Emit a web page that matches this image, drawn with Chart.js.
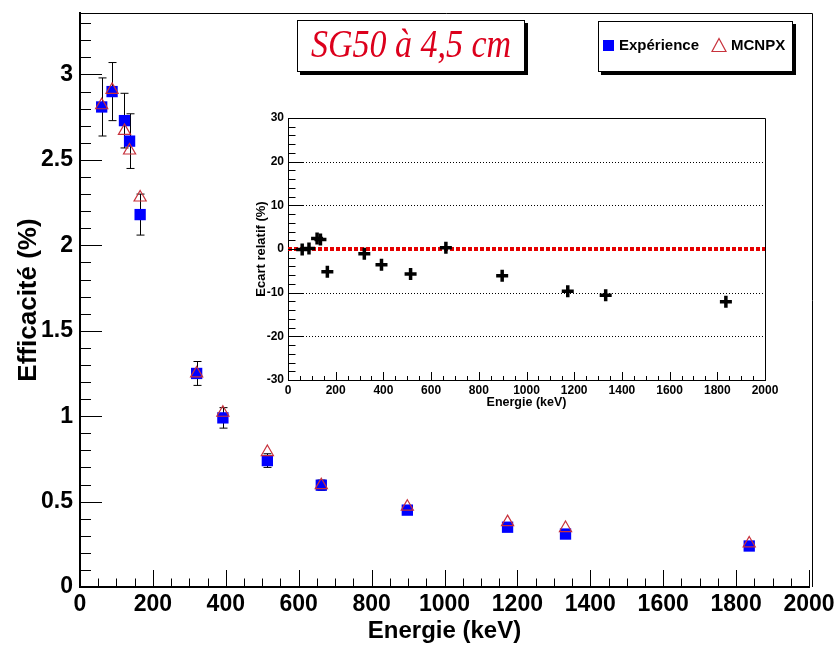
<!DOCTYPE html>
<html>
<head>
<meta charset="utf-8">
<script src="https://cdn.jsdelivr.net/npm/chart.js@4.4.1/dist/chart.umd.min.js"></script>
<style>
  body { margin: 0; background: #fff; }
  #wrap { position: relative; width: 836px; height: 646px; overflow: hidden; }
  #mainChart { position: absolute; left: 0; top: 0; }
  #insetChart { position: absolute; left: 236px; top: 104px; }
  .box {
    position: absolute; background: #fff; border: 1px solid #000;
    box-shadow: 3px 3px 0 #000;
  }
  #titleBox { left: 297px; top: 20px; width: 226px; height: 50px; }
  #titleBox span {
    position: absolute; left: 0; right: 0; top: 3px; text-align: center;
    font: italic 34px "Liberation Serif", "Times New Roman", serif;
    color: #dc001c; transform: scaleY(1.18); transform-origin: 50% 50%;
    line-height: 40px;
  }
  #legendBox { left: 598px; top: 21px; width: 193px; height: 49px; }
  .leg { position: absolute; top: 14px; font: bold 15px "Liberation Sans", Arial, sans-serif; color: #000; }
  .sq { position: absolute; left: 4px; top: 18px; width: 11px; height: 11px; background: #0000ff; }
</style>
</head>
<body>
<div id="wrap">
  <canvas id="mainChart" width="836" height="646"></canvas>
  <canvas id="insetChart" width="544" height="310"></canvas>
  <div id="titleBox" class="box"><span>SG50 à 4,5 cm</span></div>
  <div id="legendBox" class="box">
    <div class="sq"></div>
    <div class="leg" style="left:20px">Expérience</div>
    <svg style="position:absolute;left:112px;top:15px" width="16" height="16">
      <polygon points="8,1.5 15,14.5 1,14.5" fill="none" stroke="#c8323c" stroke-width="1.2"/>
    </svg>
    <div class="leg" style="left:132px">MCNPX</div>
  </div>
</div>
<script>
// energies of the gamma lines (keV)
const energies = [59.5, 88, 122, 136, 165, 320, 392, 514, 662, 898, 1173, 1332, 1836];
// measured efficiency (%) and its uncertainty
const experience = [2.81, 2.90, 2.73, 2.61, 2.18, 1.25, 0.99, 0.74, 0.596, 0.45, 0.35, 0.31, 0.24];
const experienceErr = [0.17, 0.17, 0.16, 0.16, 0.12, 0.07, 0.06, 0.04, 0.03, 0.02, 0.02, 0.02, 0.02];
// simulated efficiency (%)
const mcnpx = [2.82, 2.91, 2.67, 2.555, 2.28, 1.25, 1.02, 0.79, 0.596, 0.47, 0.38, 0.345, 0.255];
// relative deviation (%) for the inset
const ecartRelatif = [-0.1, 0.1, 2.4, 2.2, -5.2, -1.1, -3.6, -5.7, 0.3, -6.1, -9.7, -10.6, -12.1];
const zeroLineX = [0, 2000];
const zeroLineY = [0, 0];

const sansBold = (size) => ({ family: '"Liberation Sans", Arial, sans-serif', size, weight: 'bold' });

// ROOT style ticks pointing into the frame, plus the thin top/right frame
const insideTicks = {
  id: 'insideTicks',
  afterDraw(chart, args, o) {
    const { ctx, chartArea: a, scales: { x, y } } = chart;
    const right = a.right + (o.frameGap || 0) + 0.5;
    ctx.save();
    ctx.strokeStyle = '#000';
    ctx.lineWidth = 1;
    ctx.beginPath();
    ctx.moveTo(a.left, a.top + 0.5); ctx.lineTo(right, a.top + 0.5);
    ctx.lineTo(right, a.bottom);
    ctx.stroke();
    ctx.beginPath();
    for (let k = 0; x.min + k * o.xMinor <= x.max + 1e-6; k++) {
      const v = x.min + k * o.xMinor;
      const major = Math.abs(v / o.xMajor - Math.round(v / o.xMajor)) < 1e-6;
      const px = Math.round(x.getPixelForValue(v)) + 0.5;
      ctx.moveTo(px, a.bottom);
      ctx.lineTo(px, a.bottom - (major ? o.xLen : o.xLen / 2));
    }
    for (let k = 0; y.min + k * o.yMinor <= y.max + 1e-6; k++) {
      const v = y.min + k * o.yMinor;
      const major = Math.abs(v / o.yMajor - Math.round(v / o.yMajor)) < 1e-6;
      const py = Math.round(y.getPixelForValue(v)) + 0.5;
      ctx.moveTo(a.left, py);
      ctx.lineTo(a.left + (major ? o.yLen : o.yLen / 2), py);
    }
    ctx.stroke();
    ctx.restore();
  }
};

const errorBars = {
  id: 'errorBars',
  beforeDatasetsDraw(chart) {
    const { ctx, scales: { x, y } } = chart;
    ctx.save();
    ctx.strokeStyle = '#000';
    ctx.lineWidth = 1;
    ctx.beginPath();
    energies.forEach((e, i) => {
      const px = Math.round(x.getPixelForValue(e)) + 0.5;
      const top = y.getPixelForValue(experience[i] + experienceErr[i]);
      const bot = y.getPixelForValue(experience[i] - experienceErr[i]);
      ctx.moveTo(px, top); ctx.lineTo(px, bot);
      ctx.moveTo(px - 4, top); ctx.lineTo(px + 4, top);
      ctx.moveTo(px - 4, bot); ctx.lineTo(px + 4, bot);
    });
    ctx.stroke();
    ctx.restore();
  }
};

const noPad = (s) => { s.paddingTop = 0; s.paddingBottom = 0; s.paddingLeft = 0; s.paddingRight = 0; };

new Chart(document.getElementById('mainChart'), {
  type: 'scatter',
  data: {
    datasets: [
      {
        label: 'MCNPX',
        data: energies.map((e, i) => ({ x: e, y: mcnpx[i] })),
        pointStyle: 'triangle',
        pointRadius: 7,
        backgroundColor: 'rgba(0,0,0,0)',
        borderColor: '#c8323c',
        borderWidth: 1.2,
        order: 1
      },
      {
        label: 'Expérience',
        data: energies.map((e, i) => ({ x: e, y: experience[i] })),
        pointStyle: 'rect',
        pointRadius: 8,
        backgroundColor: '#0000ff',
        borderColor: '#0000ff',
        borderWidth: 0,
        order: 2
      }
    ]
  },
  options: {
    responsive: false,
    animation: false,
    layout: { padding: { top: 13, right: 27, left: 0, bottom: 0 } },
    plugins: {
      legend: { display: false },
      tooltip: { enabled: false },
      insideTicks: { xMajor: 200, xMinor: 50, xLen: 17, yMajor: 0.5, yMinor: 0.1, yLen: 22, frameGap: 3 }
    },
    scales: {
      x: {
        type: 'linear', min: 0, max: 2000,
        grid: { display: false, drawTicks: false },
        border: { color: '#000', width: 2 },
        ticks: {
          stepSize: 200, color: '#000', font: sansBold(23), padding: 4, maxRotation: 0, autoSkip: false,
          callback: (v) => String(v)
        },
        title: { display: true, text: 'Energie (keV)', color: '#000', font: sansBold(24), padding: { top: 0, bottom: 0 } },
        afterFit(s) { s.height = 59; noPad(s); }
      },
      y: {
        type: 'linear', min: 0, max: 3.36,
        grid: { display: false, drawTicks: false },
        border: { color: '#000', width: 2 },
        ticks: {
          stepSize: 0.5, color: '#000', font: sansBold(23), padding: 7, autoSkip: false,
          callback: (v) => (Math.abs(v * 2 - Math.round(v * 2)) < 1e-6 ? String(v) : '')
        },
        title: { display: true, text: 'Efficacité (%)', color: '#000', font: sansBold(26), padding: { top: 13, bottom: 0 } },
        afterFit(s) { s.width = 80; noPad(s); }
      }
    }
  },
  plugins: [errorBars, insideTicks]
});

// inset: dotted grid lines
const insetGrid = {
  id: 'insetGrid',
  beforeDatasetsDraw(chart) {
    const { ctx, chartArea: a, scales: { y } } = chart;
    ctx.save();
    ctx.strokeStyle = '#000';
    ctx.lineWidth = 1;
    ctx.setLineDash([1, 2]);
    ctx.beginPath();
    [30, 20, 10, -10, -20].forEach((v) => {
      const py = Math.round(y.getPixelForValue(v)) + 0.5;
      ctx.moveTo(a.left, py); ctx.lineTo(a.right, py);
    });
    ctx.stroke();
    ctx.restore();
  }
};

new Chart(document.getElementById('insetChart'), {
  type: 'scatter',
  data: {
    datasets: [
      {
        type: 'line',
        data: zeroLineX.map((x, i) => ({ x, y: zeroLineY[i] })),
        borderColor: '#e60000',
        borderWidth: 4,
        borderDash: [4, 2],
        pointRadius: 0,
        order: 2
      },
      {
        data: energies.map((e, i) => ({ x: e, y: ecartRelatif[i] })),
        pointStyle: 'cross',
        pointRadius: 6,
        borderColor: '#000',
        borderWidth: 3.5,
        order: 1
      }
    ]
  },
  options: {
    responsive: false,
    animation: false,
    layout: { padding: { top: 14, right: 15, left: 0, bottom: 0 } },
    plugins: {
      legend: { display: false },
      tooltip: { enabled: false },
      insideTicks: { xMajor: 200, xMinor: 50, xLen: 8, yMajor: 10, yMinor: 2, yLen: 15 }
    },
    scales: {
      x: {
        type: 'linear', min: 0, max: 2000,
        grid: { display: false, drawTicks: false },
        border: { color: '#000', width: 1 },
        ticks: { stepSize: 200, color: '#000', font: sansBold(12), padding: 3, maxRotation: 0, autoSkip: false, callback: (v) => String(v) },
        title: { display: true, text: 'Energie (keV)', color: '#000', font: sansBold(12.5), padding: { top: 0, bottom: 4 } },
        afterFit(s) { s.height = 34; noPad(s); }
      },
      y: {
        type: 'linear', min: -30, max: 30,
        grid: { display: false, drawTicks: false },
        border: { color: '#000', width: 1 },
        ticks: { stepSize: 10, color: '#000', font: sansBold(12), padding: 4, callback: (v) => String(v) },
        title: { display: true, text: 'Ecart relatif (%)', color: '#000', font: sansBold(13), padding: { top: 18, bottom: 0 } },
        afterFit(s) { s.width = 52; noPad(s); }
      }
    }
  },
  plugins: [insetGrid, insideTicks]
});
</script>
</body>
</html>
